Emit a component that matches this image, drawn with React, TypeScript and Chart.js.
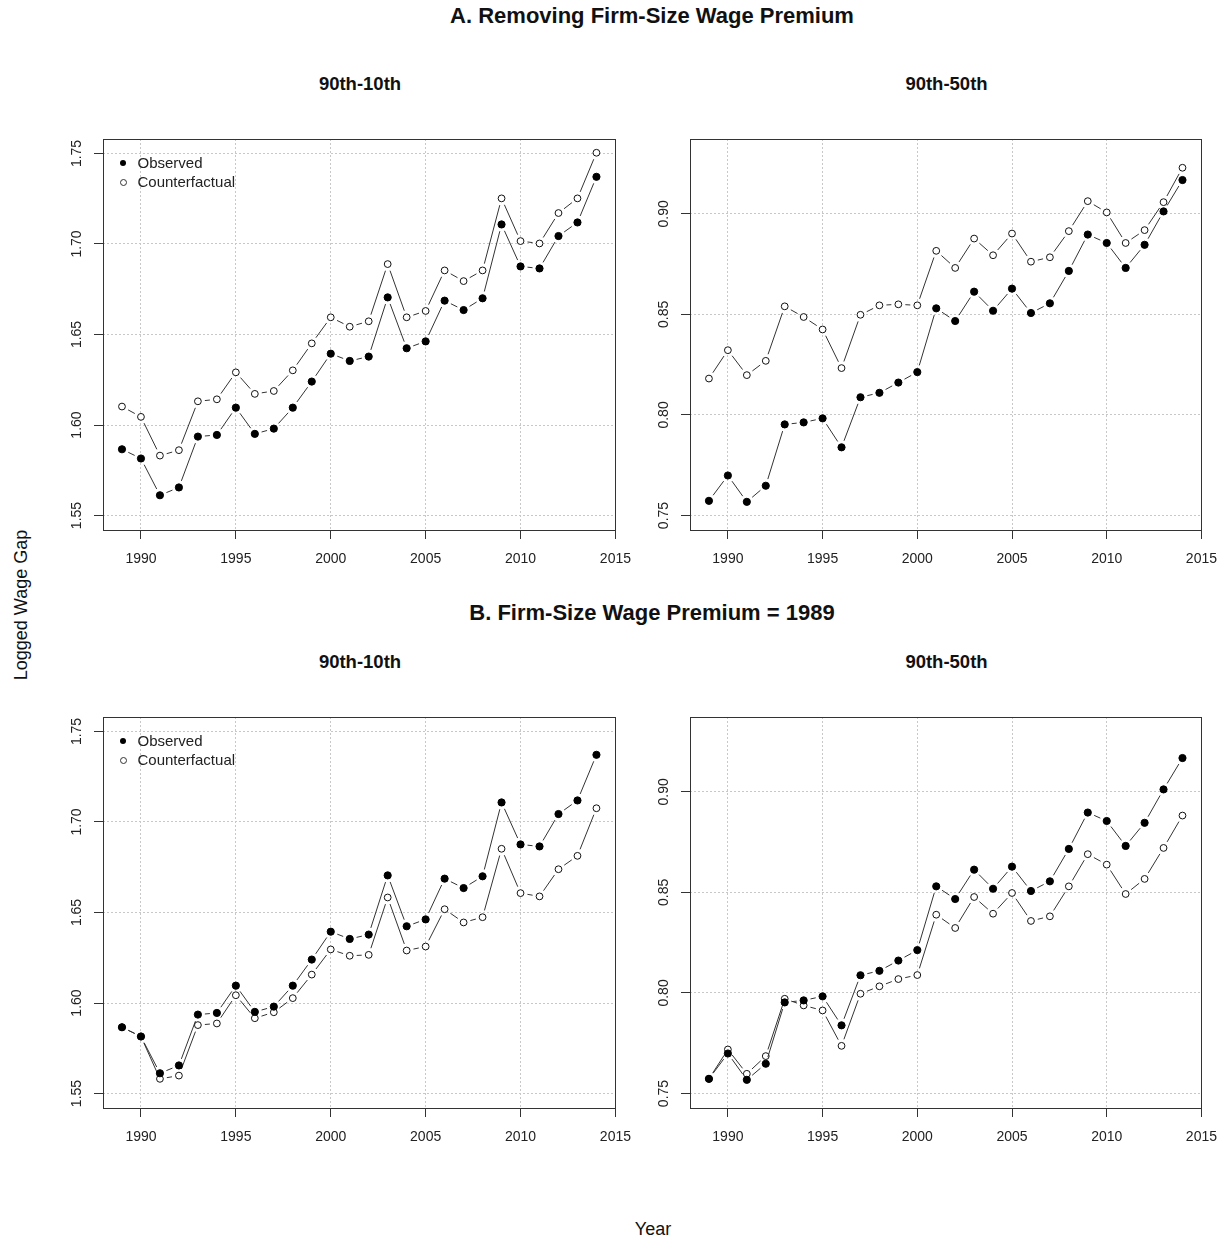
import React, { useEffect, useRef } from "react";
import { Chart, registerables } from "chart.js";

Chart.register(...registerables);

// ---------------- data ----------------
const years = [
  1989, 1990, 1991, 1992, 1993, 1994, 1995, 1996, 1997, 1998, 1999, 2000, 2001,
  2002, 2003, 2004, 2005, 2006, 2007, 2008, 2009, 2010, 2011, 2012, 2013, 2014,
];

const gap9010Observed = [
  1.5866, 1.5815, 1.5612, 1.5655, 1.5936, 1.5945, 1.6096, 1.5951, 1.598, 1.6096,
  1.624, 1.6394, 1.6354, 1.6378, 1.6705, 1.6424, 1.6462, 1.6687, 1.6635, 1.67,
  1.7108, 1.6876, 1.6865, 1.7044, 1.7119, 1.7371,
];
const gap9010CfRemoved = [
  1.6102, 1.6045, 1.5831, 1.5861, 1.6131, 1.6142, 1.6291, 1.6172, 1.6188, 1.6302,
  1.6451, 1.6595, 1.6543, 1.6573, 1.6889, 1.6595, 1.663, 1.6854, 1.6795, 1.6854,
  1.7252, 1.7016, 1.7003, 1.7171, 1.7252, 1.7504,
];
const gap9010Cf1989 = [
  1.5866, 1.5815, 1.5581, 1.5599, 1.5878, 1.5887, 1.6043, 1.5916, 1.5949, 1.6027,
  1.6157, 1.6296, 1.6261, 1.6266, 1.6583, 1.629, 1.6312, 1.6518, 1.6445, 1.6474,
  1.6852, 1.6607, 1.6589, 1.6739, 1.6813, 1.7076,
];

const gap9050Observed = [
  0.7573, 0.7699, 0.7568, 0.7648, 0.7953, 0.7963, 0.7983, 0.7839, 0.8088, 0.811,
  0.8161, 0.8213, 0.853, 0.8467, 0.8613, 0.8518, 0.8628, 0.8507, 0.8555, 0.8716,
  0.8897, 0.8855, 0.8731, 0.8846, 0.9012, 0.9168,
];
const gap9050CfRemoved = [
  0.8181, 0.8322, 0.8198, 0.8269, 0.854, 0.8487, 0.8425, 0.8233, 0.8498, 0.8545,
  0.855, 0.8545, 0.8816, 0.8731, 0.8877, 0.8794, 0.8902, 0.8762, 0.8784, 0.8914,
  0.9063, 0.9007, 0.8855, 0.8919, 0.9058, 0.9229,
];
const gap9050Cf1989 = [
  0.7573, 0.7719, 0.7598, 0.7686, 0.7971, 0.7938, 0.7913, 0.7737, 0.7996, 0.8033,
  0.8069, 0.8089, 0.8389, 0.8323, 0.8477, 0.8394, 0.8497, 0.8358, 0.8381, 0.853,
  0.869, 0.8638, 0.8492, 0.8567, 0.8721, 0.8882,
];

const xTicks = [1990, 1995, 2000, 2005, 2010, 2015];
const yTicks9010 = [1.55, 1.6, 1.65, 1.7, 1.75];
const yTicks9050 = [0.75, 0.8, 0.85, 0.9];
const seriesNames = ["Observed", "Counterfactual"];

// ---------------- styling ----------------
const FONT = "'Liberation Sans', Arial, Helvetica, sans-serif";
const Y_AXIS_W = 63;
const X_AXIS_H = 50;
const PAD_TOP = 20;
const PAD_RIGHT = 26;
const GAP = 7;

type PanelDef = {
  key: string;
  left: number;
  top: number;
  right: number;
  bottom: number;
  yMin: number;
  yMax: number;
  yTicks: number[];
  observed: number[];
  counterfactual: number[];
  legend: boolean;
};

const boxPlugin = {
  id: "panelBox",
  afterDraw(chart: any) {
    const { ctx, chartArea: a } = chart;
    ctx.save();
    ctx.strokeStyle = "#333";
    ctx.lineWidth = 1;
    const l = Math.round(a.left) + 0.5;
    const t = Math.round(a.top) + 0.5;
    const r = Math.round(a.right) + 0.5;
    const b = Math.round(a.bottom) + 0.5;
    ctx.strokeRect(l, t, r - l, b - t);
    ctx.restore();
  },
};

function gapDash(ctx: any) {
  const p0 = ctx.p0;
  const p1 = ctx.p1;
  const L = Math.hypot(p1.x - p0.x, p1.y - p0.y);
  if (L <= 2 * GAP) return [0, L + 2];
  return [0, GAP, L - 2 * GAP, GAP + 2];
}

function PanelChart({ p }: { p: PanelDef }) {
  const ref = useRef<HTMLCanvasElement>(null);
  const w = p.right - p.left + Y_AXIS_W + PAD_RIGHT;
  const h = p.bottom - p.top + PAD_TOP + X_AXIS_H;

  useEffect(() => {
    if (!ref.current) return;
    const obs = years.map((x, i) => ({ x, y: p.observed[i] }));
    const cf = years.map((x, i) => ({ x, y: p.counterfactual[i] }));
    const gridOpts = {
      color: "#c8c8c8",
      tickColor: "#333",
      tickBorderDash: [],
      tickLength: 9,
      lineWidth: 1,
    };
    const chart = new Chart(ref.current, {
      type: "line",
      data: {
        datasets: [
          {
            label: seriesNames[0],
            data: obs,
            borderColor: "#333",
            borderWidth: 1,
            pointRadius: 3.6,
            pointBackgroundColor: "#000",
            pointBorderColor: "#000",
            pointBorderWidth: 1,
            fill: false,
            tension: 0,
            segment: { borderDash: gapDash },
          } as any,
          {
            label: seriesNames[1],
            data: cf,
            borderColor: "#333",
            borderWidth: 1,
            pointRadius: 3.4,
            pointBackgroundColor: "#fff",
            pointBorderColor: "#111",
            pointBorderWidth: 1,
            fill: false,
            tension: 0,
            segment: { borderDash: gapDash },
          } as any,
        ],
      },
      options: {
        responsive: false,
        animation: false,
        devicePixelRatio: 1,
        layout: { padding: { left: 0, top: PAD_TOP, right: PAD_RIGHT, bottom: 0 } },
        plugins: {
          legend: { display: false },
          tooltip: { enabled: false },
          title: { display: false },
        },
        scales: {
          x: {
            type: "linear",
            min: 1988,
            max: 2015,
            afterBuildTicks: (s: any) => {
              s.ticks = xTicks.map((v) => ({ value: v }));
            },
            afterFit: (s: any) => {
              s.height = X_AXIS_H;
            },
            border: { display: false, dash: [2, 2] },
            grid: gridOpts,
            ticks: {
              font: { family: FONT, size: 14 },
              color: "#222",
              padding: 12,
              maxRotation: 0,
              minRotation: 0,
              callback: (v: any) => String(v),
            },
          },
          y: {
            type: "linear",
            min: p.yMin,
            max: p.yMax,
            afterBuildTicks: (s: any) => {
              s.ticks = p.yTicks.map((v) => ({ value: v }));
            },
            afterFit: (s: any) => {
              s.width = Y_AXIS_W;
            },
            border: { display: false, dash: [2, 2] },
            grid: gridOpts,
            ticks: {
              font: { family: FONT, size: 14 },
              color: "#222",
              padding: 3,
              minRotation: 90,
              maxRotation: 90,
              crossAlign: "center",
              callback: (v: any) => Number(v).toFixed(2),
            },
          },
        },
      } as any,
      plugins: [boxPlugin],
    });
    return () => chart.destroy();
  }, []);

  return (
    <div
      style={{
        position: "absolute",
        left: p.left - Y_AXIS_W,
        top: p.top - PAD_TOP,
        width: w,
        height: h,
      }}
    >
      <canvas ref={ref} width={w} height={h} style={{ width: w, height: h, display: "block" }} />
    </div>
  );
}

function Legend({ left, top }: { left: number; top: number }) {
  const row = (filled: boolean, label: string, dy: number) => (
    <div
      key={label}
      style={{
        position: "absolute",
        left: left,
        top: top + dy - 10,
        height: 20,
        lineHeight: "20px",
        whiteSpace: "nowrap",
        fontFamily: FONT,
        fontSize: 15,
        color: "#222",
      }}
    >
      <span
        style={{
          position: "absolute",
          left: 16.5,
          top: 7,
          width: filled ? 6 : 5,
          height: filled ? 6 : 5,
          borderRadius: "50%",
          background: filled ? "#000" : "#fff",
          border: filled ? "none" : "1px solid #333",
        }}
      />
      <span style={{ position: "absolute", left: 34 }}>{label}</span>
    </div>
  );
  return (
    <>
      {row(true, seriesNames[0], 0)}
      {row(false, seriesNames[1], 19)}
    </>
  );
}

function Txt({
  x,
  y,
  text,
  size,
  bold,
  rotate,
}: {
  x: number;
  y: number;
  text: string;
  size: number;
  bold?: boolean;
  rotate?: boolean;
}) {
  return (
    <div
      style={{
        position: "absolute",
        left: x,
        top: y,
        transform: `translate(-50%, -50%)${rotate ? " rotate(-90deg)" : ""}`,
        whiteSpace: "nowrap",
        fontFamily: FONT,
        fontSize: size,
        fontWeight: bold ? 700 : 400,
        color: "#111",
        lineHeight: 1.15,
      }}
    >
      {text}
    </div>
  );
}

const panels: PanelDef[] = [
  {
    key: "a1",
    left: 103,
    top: 139,
    right: 617,
    bottom: 530,
    yMin: 1.542,
    yMax: 1.758,
    yTicks: yTicks9010,
    observed: gap9010Observed,
    counterfactual: gap9010CfRemoved,
    legend: true,
  },
  {
    key: "a2",
    left: 690,
    top: 139,
    right: 1203,
    bottom: 530,
    yMin: 0.7428,
    yMax: 0.9372,
    yTicks: yTicks9050,
    observed: gap9050Observed,
    counterfactual: gap9050CfRemoved,
    legend: false,
  },
  {
    key: "b1",
    left: 103,
    top: 717,
    right: 617,
    bottom: 1108,
    yMin: 1.542,
    yMax: 1.758,
    yTicks: yTicks9010,
    observed: gap9010Observed,
    counterfactual: gap9010Cf1989,
    legend: true,
  },
  {
    key: "b2",
    left: 690,
    top: 717,
    right: 1203,
    bottom: 1108,
    yMin: 0.7428,
    yMax: 0.9372,
    yTicks: yTicks9050,
    observed: gap9050Observed,
    counterfactual: gap9050Cf1989,
    legend: false,
  },
];

export default function App() {
  return (
    <div
      style={{
        position: "absolute",
        left: 0,
        top: 0,
        width: 1229,
        height: 1243,
        background: "#fff",
        overflow: "hidden",
      }}
    >
      <Txt x={652} y={16} text="A. Removing Firm-Size Wage Premium" size={22} bold />
      <Txt x={360} y={84} text="90th-10th" size={18.5} bold />
      <Txt x={946.5} y={84} text="90th-50th" size={18.5} bold />
      <Txt x={652} y={613} text="B. Firm-Size Wage Premium = 1989" size={22} bold />
      <Txt x={360} y={662} text="90th-10th" size={18.5} bold />
      <Txt x={946.5} y={662} text="90th-50th" size={18.5} bold />
      <Txt x={21} y={605} text="Logged Wage Gap" size={18} rotate />
      <Txt x={653} y={1229} text="Year" size={18} />
      {panels.map((p) => (
        <PanelChart key={p.key} p={p} />
      ))}
      {panels
        .filter((p) => p.legend)
        .map((p) => (
          <div key={p.key + "-lg"}>
            <Legend left={p.left + 0.5} top={p.top + 24.3} />
          </div>
        ))}
    </div>
  );
}
